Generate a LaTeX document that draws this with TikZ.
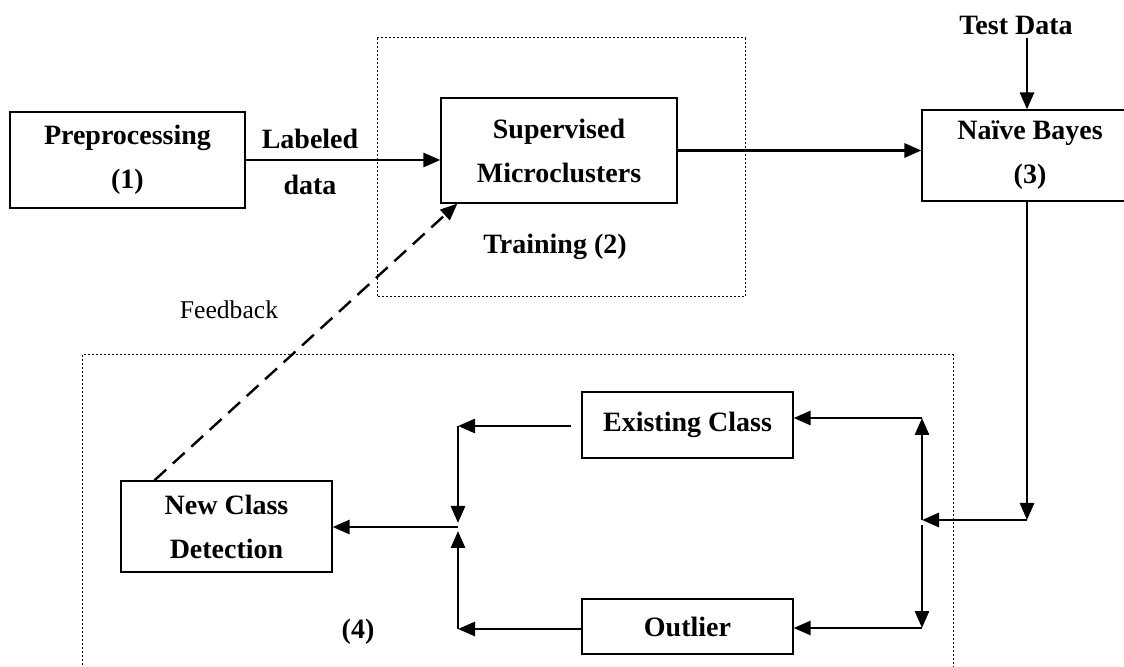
\documentclass[tikz,border=0pt]{standalone}
\usepackage{fontspec}
\setmainfont{Liberation Serif}
\usetikzlibrary{arrows.meta,calc}
\begin{document}
\begin{tikzpicture}[x=0.5pt,y=-0.5pt,
  box/.style={draw,line width=0.6pt,rectangle,align=center,inner sep=0pt,
    font=\bfseries\fontsize{14}{22}\selectfont},
  lbl/.style={inner sep=0pt,font=\bfseries\fontsize{14}{16}\selectfont},
  group/.style={draw,line width=0.5pt,dash pattern=on 1pt off 1pt},
  arr/.style={line width=1.4pt,-{Triangle[length=8.5pt,width=7pt]}},
  fbarr/.style={line width=1.2pt,dash pattern=on 8pt off 4.5pt,
    -{Triangle[length=8.5pt,width=7pt]}}]
\clip (0,0) rectangle (1124,667);
\useasboundingbox (0,0) rectangle (1124,667);

% dotted group frames
\draw[group] (377,38) rectangle (745,297);
\draw[group] (82,355) rectangle (953,672);

% processing boxes
\node[box,minimum width=117.5pt,minimum height=48pt] (pre) at (127.5,160)
  {Preprocessing\\(1)};
\node[box,minimum width=118pt,minimum height=52.5pt] (sup) at (559,150.5)
  {Supervised\\Microclusters};
\node[box,minimum width=108pt,minimum height=45.5pt] (nb) at (1030,155.5)
  {Naïve Bayes\\(3)};
\node[box,minimum width=105.5pt,minimum height=33pt] (ex) at (687.5,425)
  {Existing Class};
\node[box,minimum width=105.5pt,minimum height=27.5pt] (out) at (687.5,626.5)
  {Outlier};
\node[box,minimum width=105.5pt,minimum height=45.5pt] (ncd) at (226.5,526.5)
  {New Class\\Detection};

% free labels
\node[lbl] (test) at (1016,25) {Test Data};
\node[lbl] (lab1) at (310,139) {Labeled};
\node[lbl] (lab2) at (310,185) {data};
\node[lbl] (train) at (555,247) {Training (2)};
\node[lbl] (four) at (358,632) {(4)};
\node[inner sep=0pt,font=\fontsize{12.8}{15}\selectfont] (fb) at (229,310) {Feedback};

% junction points
\coordinate (tin) at (1027,38);
\coordinate (nbd) at (1027,520);
\coordinate (jr) at (922,520);
\coordinate (tr) at (922,418);
\coordinate (br) at (922,628);
\coordinate (tl) at (458,426);
\coordinate (bl) at (458,629);
\coordinate (jl) at (458,527);

% main flow
\draw[arr] (pre.east) -- (pre.east -| sup.west);
\draw[arr] (sup.east) -- (sup.east -| nb.west);
\draw[arr] (tin) -- (tin |- nb.north);
\draw[arr] (nbd |- nb.south) -- (nbd);
\draw[arr] (nbd) -- (jr);

% fan-out to the two classes
\draw[arr] (jr) -- (tr);
\draw[arr] ([yshift=-2.5pt]jr) -- (br);
\draw[arr] (tr) -- (tr -| ex.east);
\draw[arr] (br) -- (br -| out.east);

% merge towards new class detection
\draw[arr] ([xshift=-5pt]ex.west |- tl) -- (tl);
\draw[arr] (out.west |- bl) -- (bl);
\draw[arr] (tl) -- ([yshift=2pt]jl);
\draw[arr] (bl) -- ([yshift=-2pt]jl);
\draw[arr] (jl) -- (jl -| ncd.east);

% feedback loop
\coordinate (fbs) at ([xshift=17pt]ncd.north west);
\coordinate (fbe) at ([xshift=8.5pt]sup.south west);
\draw[fbarr] (fbs) -- (fbe);
\end{tikzpicture}
\end{document}
